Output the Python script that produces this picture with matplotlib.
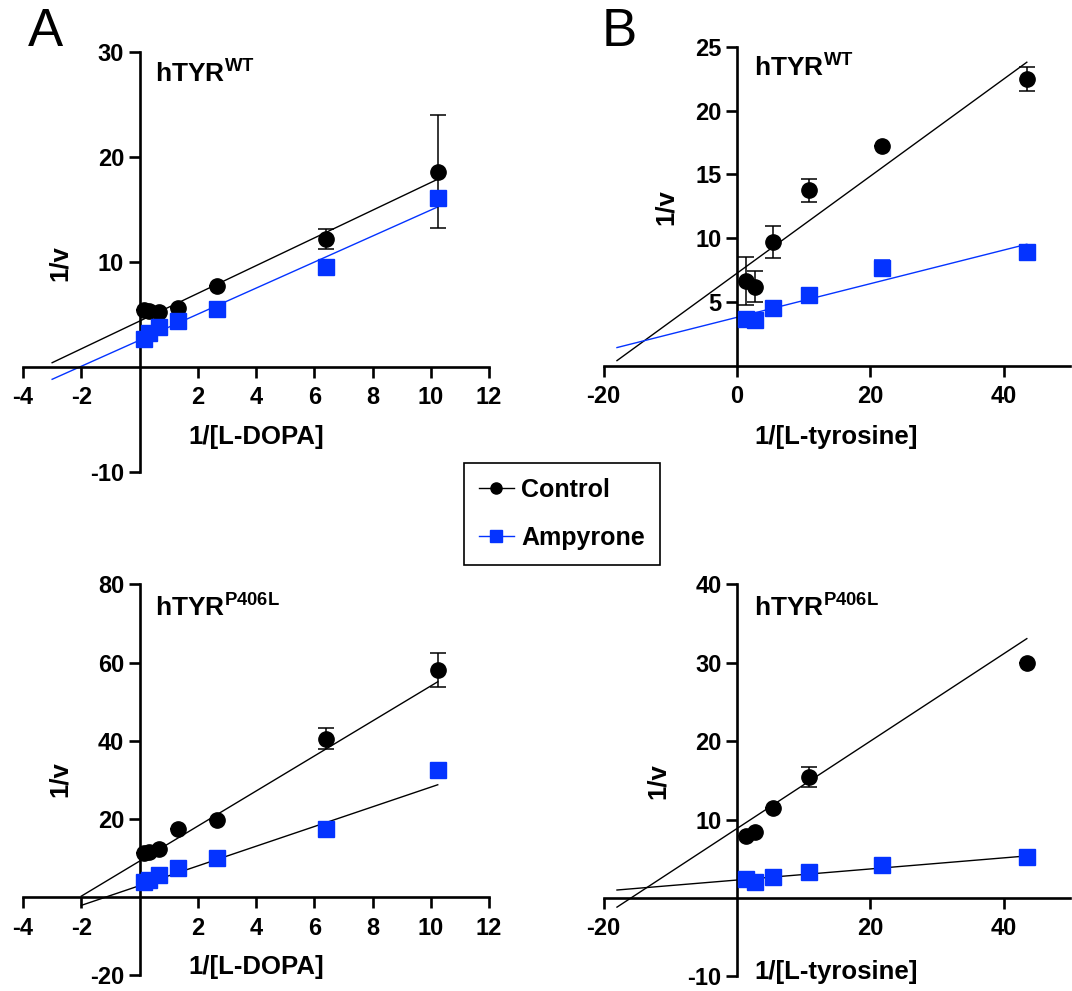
import numpy as np
import matplotlib
matplotlib.use("Agg")
import matplotlib.pyplot as plt
from matplotlib.lines import Line2D

plt.rcParams['font.family'] = ['Liberation Sans', 'DejaVu Sans']
plt.rcParams['mathtext.fontset'] = 'custom'
plt.rcParams['mathtext.rm'] = 'Liberation Sans'
plt.rcParams['mathtext.bf'] = 'Liberation Sans:bold'
plt.rcParams['axes.unicode_minus'] = False

# ---------------- data ----------------
dopa_x = [0.167, 0.333, 0.667, 1.333, 2.667, 6.4, 10.24]
tyr_x = [1.359, 2.717, 5.435, 10.87, 21.74, 43.48]

wt_dopa_ctrl = [5.4, 5.3, 5.2, 5.6, 7.7, 12.15, 18.6]
wt_dopa_ctrl_err = [0, 0, 0, 0, 0, 0.95, 5.4]
wt_dopa_amp = [2.7, 3.2, 3.8, 4.35, 5.5, 9.5, 16.1]
wt_dopa_amp_err = [0, 0, 0, 0, 0, 0, 0.6]

p406l_dopa_ctrl = [11.4, 11.65, 12.2, 17.3, 19.85, 40.5, 58.0]
p406l_dopa_ctrl_err = [0, 0, 0, 0, 0, 2.7, 4.35]
p406l_dopa_amp = [3.8, 4.5, 5.66, 7.43, 9.9, 17.3, 32.4]
p406l_dopa_amp_err = [0, 0, 0, 0, 0, 0, 0]

wt_tyr_ctrl = [6.66, 6.2, 9.7, 13.76, 17.23, 22.45]
wt_tyr_ctrl_err = [1.85, 1.2, 1.24, 0.89, 0, 0.92]
wt_tyr_amp = [3.68, 3.6, 4.52, 5.56, 7.7, 8.96]
wt_tyr_amp_err = [0, 0, 0, 0, 0.6, 0.5]

p406l_tyr_ctrl = [7.9, 8.45, 11.5, 15.4, np.nan, 29.9]
p406l_tyr_ctrl_err = [0, 0, 0, 1.25, 0, 0]
p406l_tyr_amp = [2.4, 2.0, 2.7, 3.33, 4.2, 5.2]
p406l_tyr_amp_err = [0, 0, 0, 0, 0, 0]

# linear fits: (slope, intercept), line start x
wt_dopa_fit_ctrl = (1.32, 4.37)
wt_dopa_fit_amp = (1.24, 2.55)
wt_dopa_fit_start = -3
p406l_dopa_fit_ctrl = (4.48, 9.2)
p406l_dopa_fit_amp = (2.52, 2.93)
p406l_dopa_fit_start = -2
wt_tyr_fit_ctrl = (0.380, 7.26)
wt_tyr_fit_amp = (0.1316, 3.81)
wt_tyr_fit_start = -18
p406l_tyr_fit_ctrl = (0.557, 8.85)
p406l_tyr_fit_amp = (0.0707, 2.28)
p406l_tyr_fit_start = -18

BLUE = '#0433FF'

fig = plt.figure(figsize=(10.72, 9.91), dpi=100)


def panel(rect, xlim, ylim, xticks, yticks, x, ctrl, ctrl_err, amp, amp_err,
          fit_c, fit_a, fit_start, amp_line_color, xlabel, title_sup,
          xl_pos, yl_pos, title_pos):
    ax = fig.add_axes(rect)
    ax.set_xlim(*xlim)
    ax.set_ylim(*ylim)
    for s in ['top', 'right']:
        ax.spines[s].set_visible(False)
    ax.spines['left'].set_position(('data', 0))
    ax.spines['bottom'].set_position(('data', 0))
    for s in ['left', 'bottom']:
        ax.spines[s].set_linewidth(1.9)
    ax.set_xticks(xticks)
    ax.set_yticks(yticks)
    ax.tick_params(direction='out', length=8, width=1.9, labelsize=17)
    ax.tick_params(axis='x', pad=6)
    ax.tick_params(axis='y', pad=3)
    for lab in ax.get_xticklabels() + ax.get_yticklabels():
        lab.set_fontweight('bold')
    xx = np.array([fit_start, max(x)])
    ax.plot(xx, fit_c[0] * xx + fit_c[1], color='black', lw=1.0, zorder=2)
    ax.plot(xx, fit_a[0] * xx + fit_a[1], color=amp_line_color, lw=1.0, zorder=2)
    ax.errorbar(x, ctrl, yerr=ctrl_err, fmt='o', color='black', ms=11,
                capsize=6, elinewidth=1.1, capthick=1.1, zorder=3, clip_on=False)
    ax.errorbar(x, amp, yerr=amp_err, fmt='s', color=BLUE, ms=11,
                capsize=6, elinewidth=1.1, capthick=1.1, zorder=3, clip_on=False)
    ax.text(xl_pos[0], xl_pos[1], xlabel, transform=ax.transAxes, ha='center',
            va='center', fontsize=18.5, fontweight='bold')
    ax.text(yl_pos[0], yl_pos[1], '1/v', transform=ax.transAxes, ha='center',
            va='center', rotation=90, fontsize=18.5, fontweight='bold')
    ax.text(title_pos[0], title_pos[1], 'hTYR$^{\\mathbf{' + title_sup + '}}$',
            transform=ax.transAxes, ha='left', va='center', fontsize=19,
            fontweight='bold')
    return ax


panel([0.02146, 0.5237, 0.4347, 0.4238], (-4, 12), (-10, 30),
      [-4, -2, 2, 4, 6, 8, 10, 12], [-10, 10, 20, 30],
      dopa_x, wt_dopa_ctrl, wt_dopa_ctrl_err, wt_dopa_amp, wt_dopa_amp_err,
      wt_dopa_fit_ctrl, wt_dopa_fit_amp, wt_dopa_fit_start, BLUE,
      '1/[L-DOPA]', 'WT', (0.5, 0.083), (0.079, 0.498), (0.283, 0.952))

panel([0.02146, 0.0158, 0.4347, 0.3946], (-4, 12), (-20, 80),
      [-4, -2, 2, 4, 6, 8, 10, 12], [-20, 20, 40, 60, 80],
      dopa_x, p406l_dopa_ctrl, p406l_dopa_ctrl_err, p406l_dopa_amp, p406l_dopa_amp_err,
      p406l_dopa_fit_ctrl, p406l_dopa_fit_amp, p406l_dopa_fit_start, 'black',
      '1/[L-DOPA]', 'P406L', (0.5, 0.022), (0.079, 0.503), (0.283, 0.942))

panel([0.5631, 0.6307, 0.4353, 0.3222], (-20, 50), (0, 25),
      [-20, 0, 20, 40], [5, 10, 15, 20, 25],
      tyr_x, wt_tyr_ctrl, wt_tyr_ctrl_err, wt_tyr_amp, wt_tyr_amp_err,
      wt_tyr_fit_ctrl, wt_tyr_fit_amp, wt_tyr_fit_start, BLUE,
      '1/[L-tyrosine]', 'WT', (0.498, -0.222), (0.1335, 0.498), (0.322, 0.936))

panel([0.5631, 0.01481, 0.4353, 0.3956], (-20, 50), (-10, 40),
      [-20, 20, 40], [-10, 10, 20, 30, 40],
      tyr_x, p406l_tyr_ctrl, p406l_tyr_ctrl_err, p406l_tyr_amp, p406l_tyr_amp_err,
      p406l_tyr_fit_ctrl, p406l_tyr_fit_amp, p406l_tyr_fit_start, 'black',
      '1/[L-tyrosine]', 'P406L', (0.498, 0.012), (0.116, 0.497), (0.322, 0.9425))

fig.text(45 / 1072, 1 - 32 / 991, 'A', fontsize=38, ha='center', va='center')
fig.text(619 / 1072, 1 - 32 / 991, 'B', fontsize=38, ha='center', va='center')

handles = [
    Line2D([], [], color='black', marker='o', ms=8, lw=1.0, label='Control'),
    Line2D([], [], color=BLUE, marker='s', ms=8, lw=1.0, label='Ampyrone'),
]
leg = fig.legend(handles=handles, loc='upper left',
                 bbox_to_anchor=(464 / 1072, 1 - 463 / 991),
                 prop={'family': 'Liberation Sans', 'weight': 'bold', 'size': 18},
                 frameon=True, fancybox=False, edgecolor='black', framealpha=1,
                 handlelength=1.4, handletextpad=0.3, borderpad=0.6,
                 labelspacing=0.95, borderaxespad=0)
leg.get_frame().set_linewidth(1.2)

fig.savefig('out.png', dpi=100)
